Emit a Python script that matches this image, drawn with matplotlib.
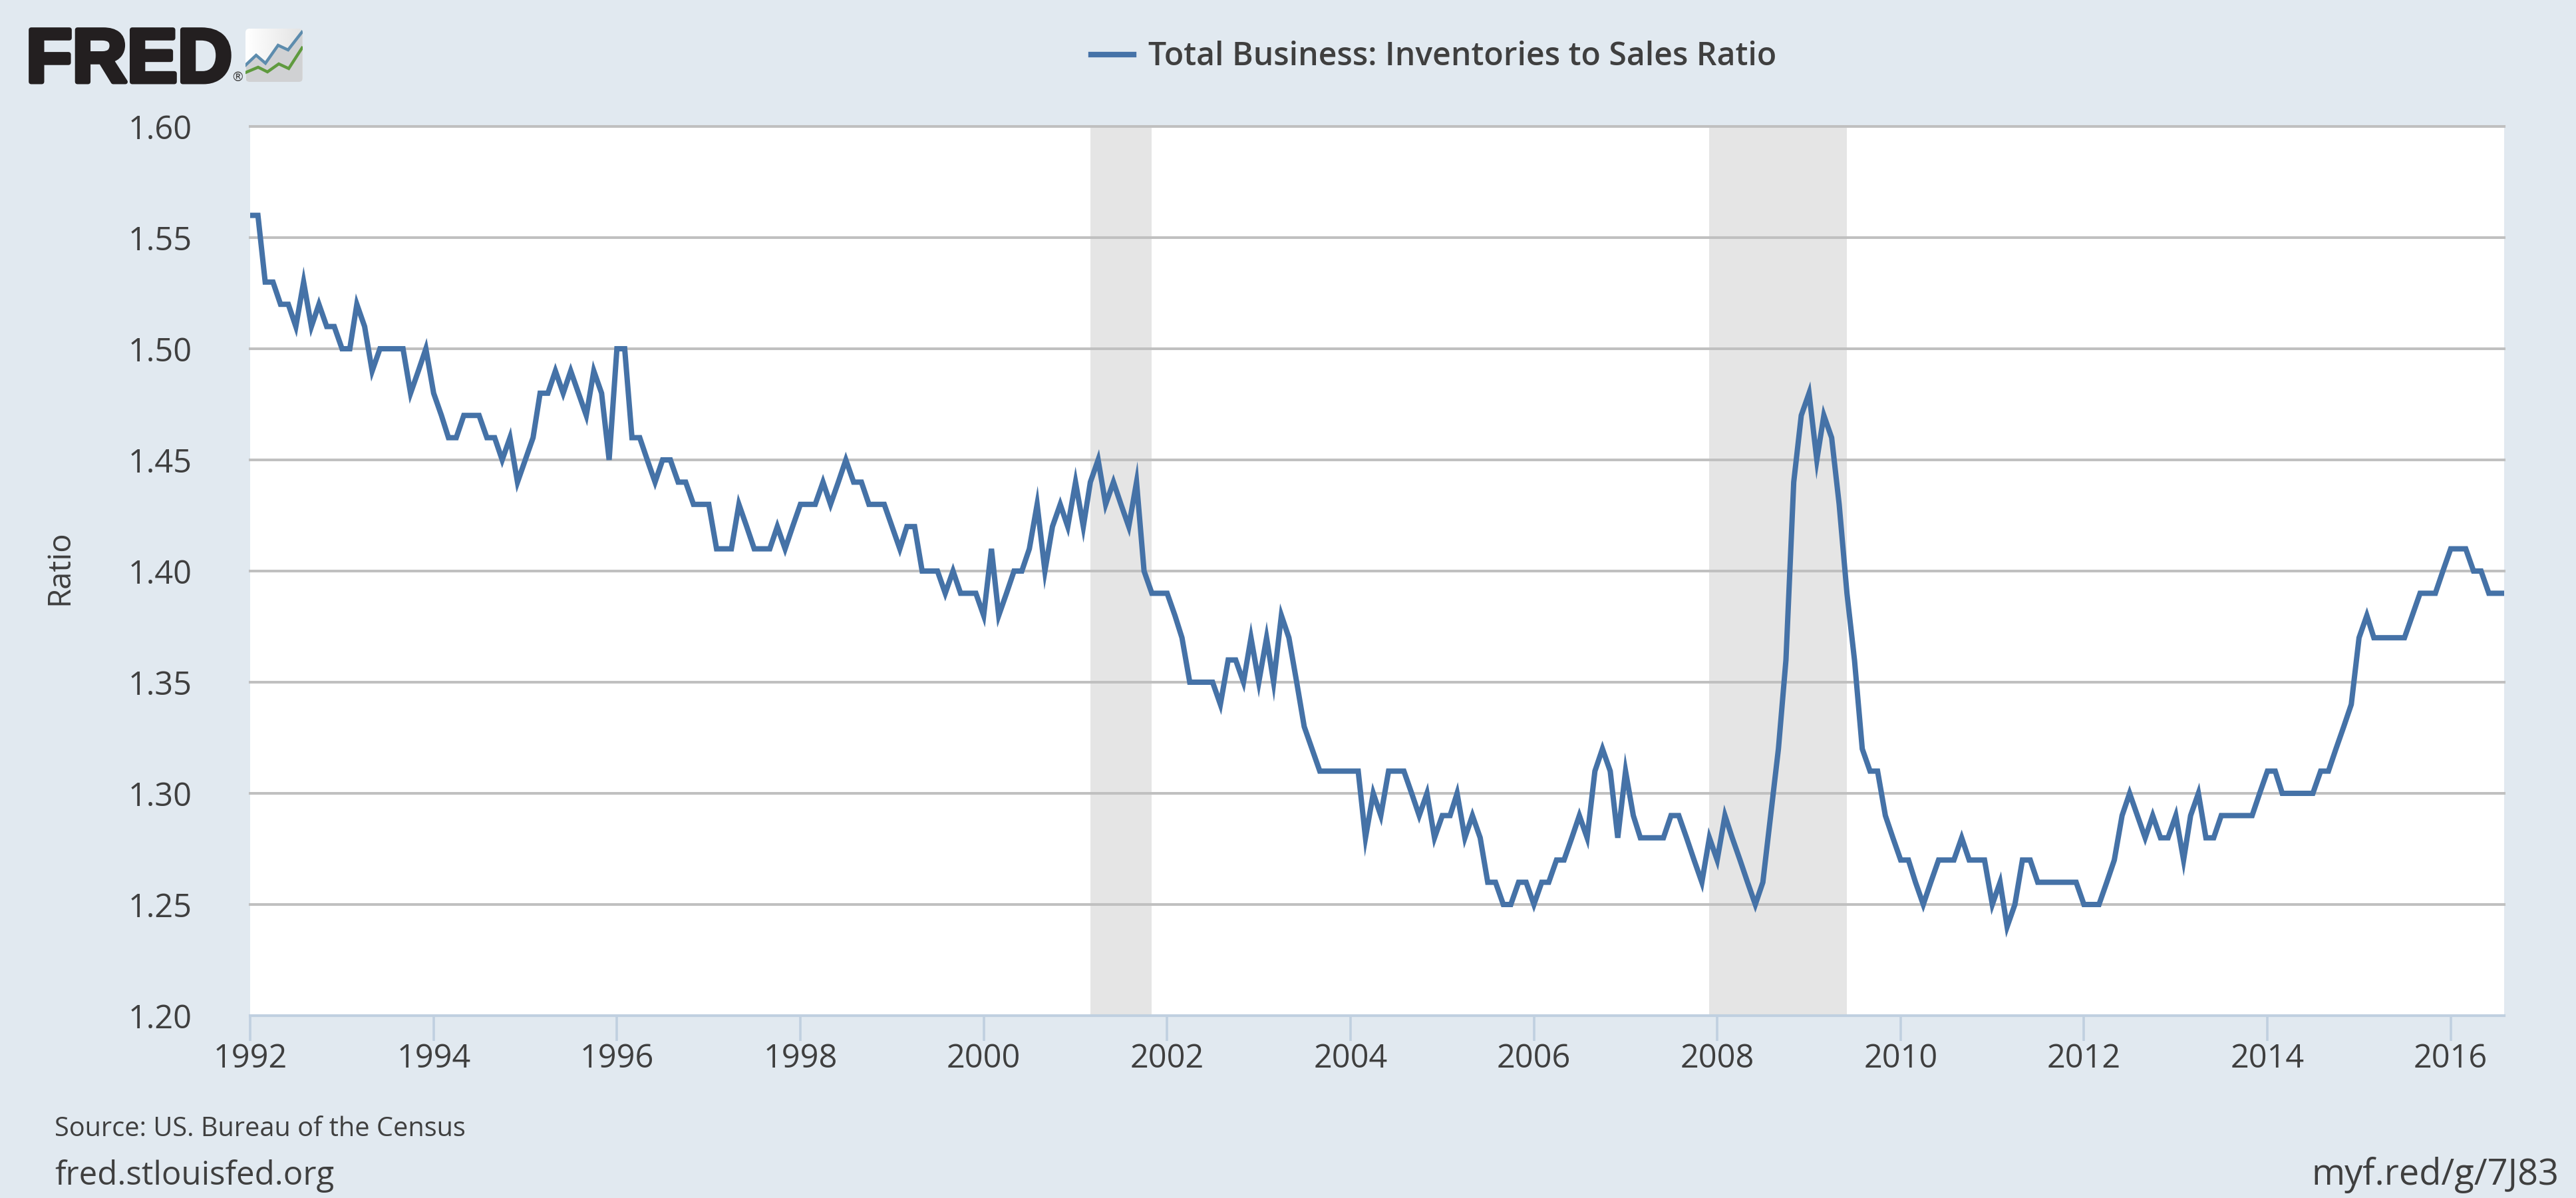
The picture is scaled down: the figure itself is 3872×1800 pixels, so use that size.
import matplotlib
matplotlib.use("Agg")
import matplotlib.pyplot as plt
import matplotlib.patheffects as pe
from matplotlib.patches import FancyBboxPatch
import numpy as np
import pandas as pd

# Monthly inventories to sales ratio
r1992 = [1.56, 1.56, 1.53, 1.53, 1.52, 1.52, 1.51, 1.53, 1.51, 1.52, 1.51, 1.51]
r1993 = [1.50, 1.50, 1.52, 1.51, 1.49, 1.50, 1.50, 1.50, 1.50, 1.48, 1.49, 1.50]
r1994 = [1.48, 1.47, 1.46, 1.46, 1.47, 1.47, 1.47, 1.46, 1.46, 1.45, 1.46, 1.44]
r1995 = [1.45, 1.46, 1.48, 1.48, 1.49, 1.48, 1.49, 1.48, 1.47, 1.49, 1.48, 1.45]
r1996 = [1.50, 1.50, 1.46, 1.46, 1.45, 1.44, 1.45, 1.45, 1.44, 1.44, 1.43, 1.43]
r1997 = [1.43, 1.41, 1.41, 1.41, 1.43, 1.42, 1.41, 1.41, 1.41, 1.42, 1.41, 1.42]
r1998 = [1.43, 1.43, 1.43, 1.44, 1.43, 1.44, 1.45, 1.44, 1.44, 1.43, 1.43, 1.43]
r1999 = [1.42, 1.41, 1.42, 1.42, 1.40, 1.40, 1.40, 1.39, 1.40, 1.39, 1.39, 1.39]
r2000 = [1.38, 1.41, 1.38, 1.39, 1.40, 1.40, 1.41, 1.43, 1.40, 1.42, 1.43, 1.42]
r2001 = [1.44, 1.42, 1.44, 1.45, 1.43, 1.44, 1.43, 1.42, 1.44, 1.40, 1.39, 1.39]
r2002 = [1.39, 1.38, 1.37, 1.35, 1.35, 1.35, 1.35, 1.34, 1.36, 1.36, 1.35, 1.37]
r2003 = [1.35, 1.37, 1.35, 1.38, 1.37, 1.35, 1.33, 1.32, 1.31, 1.31, 1.31, 1.31]
r2004 = [1.31, 1.31, 1.28, 1.30, 1.29, 1.31, 1.31, 1.31, 1.30, 1.29, 1.30, 1.28]
r2005 = [1.29, 1.29, 1.30, 1.28, 1.29, 1.28, 1.26, 1.26, 1.25, 1.25, 1.26, 1.26]
r2006 = [1.25, 1.26, 1.26, 1.27, 1.27, 1.28, 1.29, 1.28, 1.31, 1.32, 1.31, 1.28]
r2007 = [1.31, 1.29, 1.28, 1.28, 1.28, 1.28, 1.29, 1.29, 1.28, 1.27, 1.26, 1.28]
r2008 = [1.27, 1.29, 1.28, 1.27, 1.26, 1.25, 1.26, 1.29, 1.32, 1.36, 1.44, 1.47]
r2009 = [1.48, 1.45, 1.47, 1.46, 1.43, 1.39, 1.36, 1.32, 1.31, 1.31, 1.29, 1.28]
r2010 = [1.27, 1.27, 1.26, 1.25, 1.26, 1.27, 1.27, 1.27, 1.28, 1.27, 1.27, 1.27]
r2011 = [1.25, 1.26, 1.24, 1.25, 1.27, 1.27, 1.26, 1.26, 1.26, 1.26, 1.26, 1.26]
r2012 = [1.25, 1.25, 1.25, 1.26, 1.27, 1.29, 1.30, 1.29, 1.28, 1.29, 1.28, 1.28]
r2013 = [1.29, 1.27, 1.29, 1.30, 1.28, 1.28, 1.29, 1.29, 1.29, 1.29, 1.29, 1.30]
r2014 = [1.31, 1.31, 1.30, 1.30, 1.30, 1.30, 1.30, 1.31, 1.31, 1.32, 1.33, 1.34]
r2015 = [1.37, 1.38, 1.37, 1.37, 1.37, 1.37, 1.37, 1.38, 1.39, 1.39, 1.39, 1.40]
r2016 = [1.41, 1.41, 1.41, 1.40, 1.40, 1.39, 1.39, 1.39]

ratio = (r1992 + r1993 + r1994 + r1995 + r1996 + r1997 + r1998 + r1999 + r2000
         + r2001 + r2002 + r2003 + r2004 + r2005 + r2006 + r2007 + r2008 + r2009
         + r2010 + r2011 + r2012 + r2013 + r2014 + r2015 + r2016)
dates = pd.date_range("1992-01-01", periods=len(ratio), freq="MS")

recessions = [("2001-03-01", "2001-11-01"), ("2007-12-01", "2009-06-01")]
y_ticks = [1.20, 1.25, 1.30, 1.35, 1.40, 1.45, 1.50, 1.55, 1.60]
x_years = list(range(1992, 2017, 2))

W, H = 3872, 1800
BG = "#e1e9f0"
TXT = "#3f3f3f"
LINE = "#4572a7"
plt.rcParams["font.family"] = ["Open Sans", "DejaVu Sans"]

fig = plt.figure(figsize=(W / 100, H / 100), dpi=100, facecolor=BG)
left, right, top, bottom = 376, 3764, 190, 1526
ax = fig.add_axes([left / W, 1 - bottom / H, (right - left) / W, (bottom - top) / H])

for start, end in recessions:
    ax.axvspan(pd.Timestamp(start), pd.Timestamp(end), color="#e5e5e5", lw=0, zorder=1)

ax.plot(dates, ratio, color=LINE, lw=5.8, solid_joinstyle="miter", zorder=3)

ax.set_xlim(pd.Timestamp("1992-01-01"), dates[-1])
ax.set_ylim(1.20, 1.60)
ax.set_yticks(y_ticks)
ax.set_yticklabels([f"{v:.2f}" for v in y_ticks])
ax.set_xticks([pd.Timestamp(f"{y}-01-01") for y in x_years])
ax.set_xticklabels([str(y) for y in x_years])
ax.grid(True, axis="y", color="#c0c0c0", lw=2.9, zorder=2)
ax.set_axisbelow(False)
for ln in ax.get_ygridlines():
    ln.set_zorder(2)
    ln.set_clip_on(False)
for s in ["top", "left", "right"]:
    ax.spines[s].set_visible(False)
ax.spines["bottom"].set_color("#c0d0e0")
ax.spines["bottom"].set_linewidth(2.9)
ax.spines["bottom"].set_zorder(4)
ax.tick_params(axis="y", length=0, pad=63, labelsize=35, labelcolor=TXT)
ax.tick_params(axis="x", length=27, width=2.6, color="#c0d0e0", pad=2,
               labelsize=35, labelcolor=TXT)


def px_text(x, y, s, **kw):
    return fig.text(x / W, 1 - y / H, s, **kw)


px_text(90, 853, "Ratio", rotation=90, ha="center", va="center", fontsize=34, color=TXT)
px_text(82, 1697, "Source: US. Bureau of the Census", ha="left", va="center",
        fontsize=28.6, color=TXT)
px_text(82, 1780, "fred.stlouisfed.org", ha="left", va="baseline", fontsize=35.4, color=TXT)
px_text(3846, 1780, "myf.red/g/7J83", ha="right", va="baseline", fontsize=39, color=TXT)

# Legend
fig.add_artist(plt.Line2D([1640 / W, 1704 / W], [1 - 82 / H, 1 - 82 / H], color=LINE, lw=6))
px_text(1726, 86, "Total Business: Inventories to Sales Ratio", ha="left", va="center",
        fontsize=34.7, color=TXT, fontweight="semibold")

# Logo
px_text(39, 123, "FRED", ha="left", va="baseline", fontsize=82, color="#231f20",
        family="Liberation Sans", fontweight="bold",
        path_effects=[pe.withStroke(linewidth=5, foreground="#231f20")])
px_text(357, 117, "®", ha="center", va="center", fontsize=14, color="#444444",
        family="DejaVu Sans")

logo = fig.add_axes([369 / W, 1 - 123 / H, 86 / W, 80 / H])
logo.set_xlim(369, 455)
logo.set_ylim(123, 43)
logo.axis("off")
grad = np.linspace(0, 1, 64).reshape(1, -1)
im = logo.imshow(grad, extent=[369, 455, 123, 43], aspect="auto", cmap="gray_r",
                 vmin=-0.0, vmax=9, zorder=1)
clip = FancyBboxPatch((371, 45), 82, 76, boxstyle="round,pad=2,rounding_size=6",
                      fc="none", ec="none", transform=logo.transData)
logo.add_patch(clip)
im.set_clip_path(clip)
bx = [369, 385, 399, 418, 433, 454]
by = [98, 83, 95, 68, 75, 48]
gx = [369, 388, 402, 419, 434, 454]
gy = [109, 101, 108, 96, 103, 72]
fill = logo.fill_between(bx, by, 123, color="#d0d1d3", lw=0, zorder=2)
fill.set_clip_path(clip)
for xs, ys, c in [(bx, by, "#5d8cad"), (gx, gy, "#5f9a3e")]:
    ln, = logo.plot(xs, ys, color=c, lw=3.2, zorder=3, solid_joinstyle="miter")
    ln.set_clip_path(clip)

fig.savefig("out.png", dpi=100, facecolor=BG)
